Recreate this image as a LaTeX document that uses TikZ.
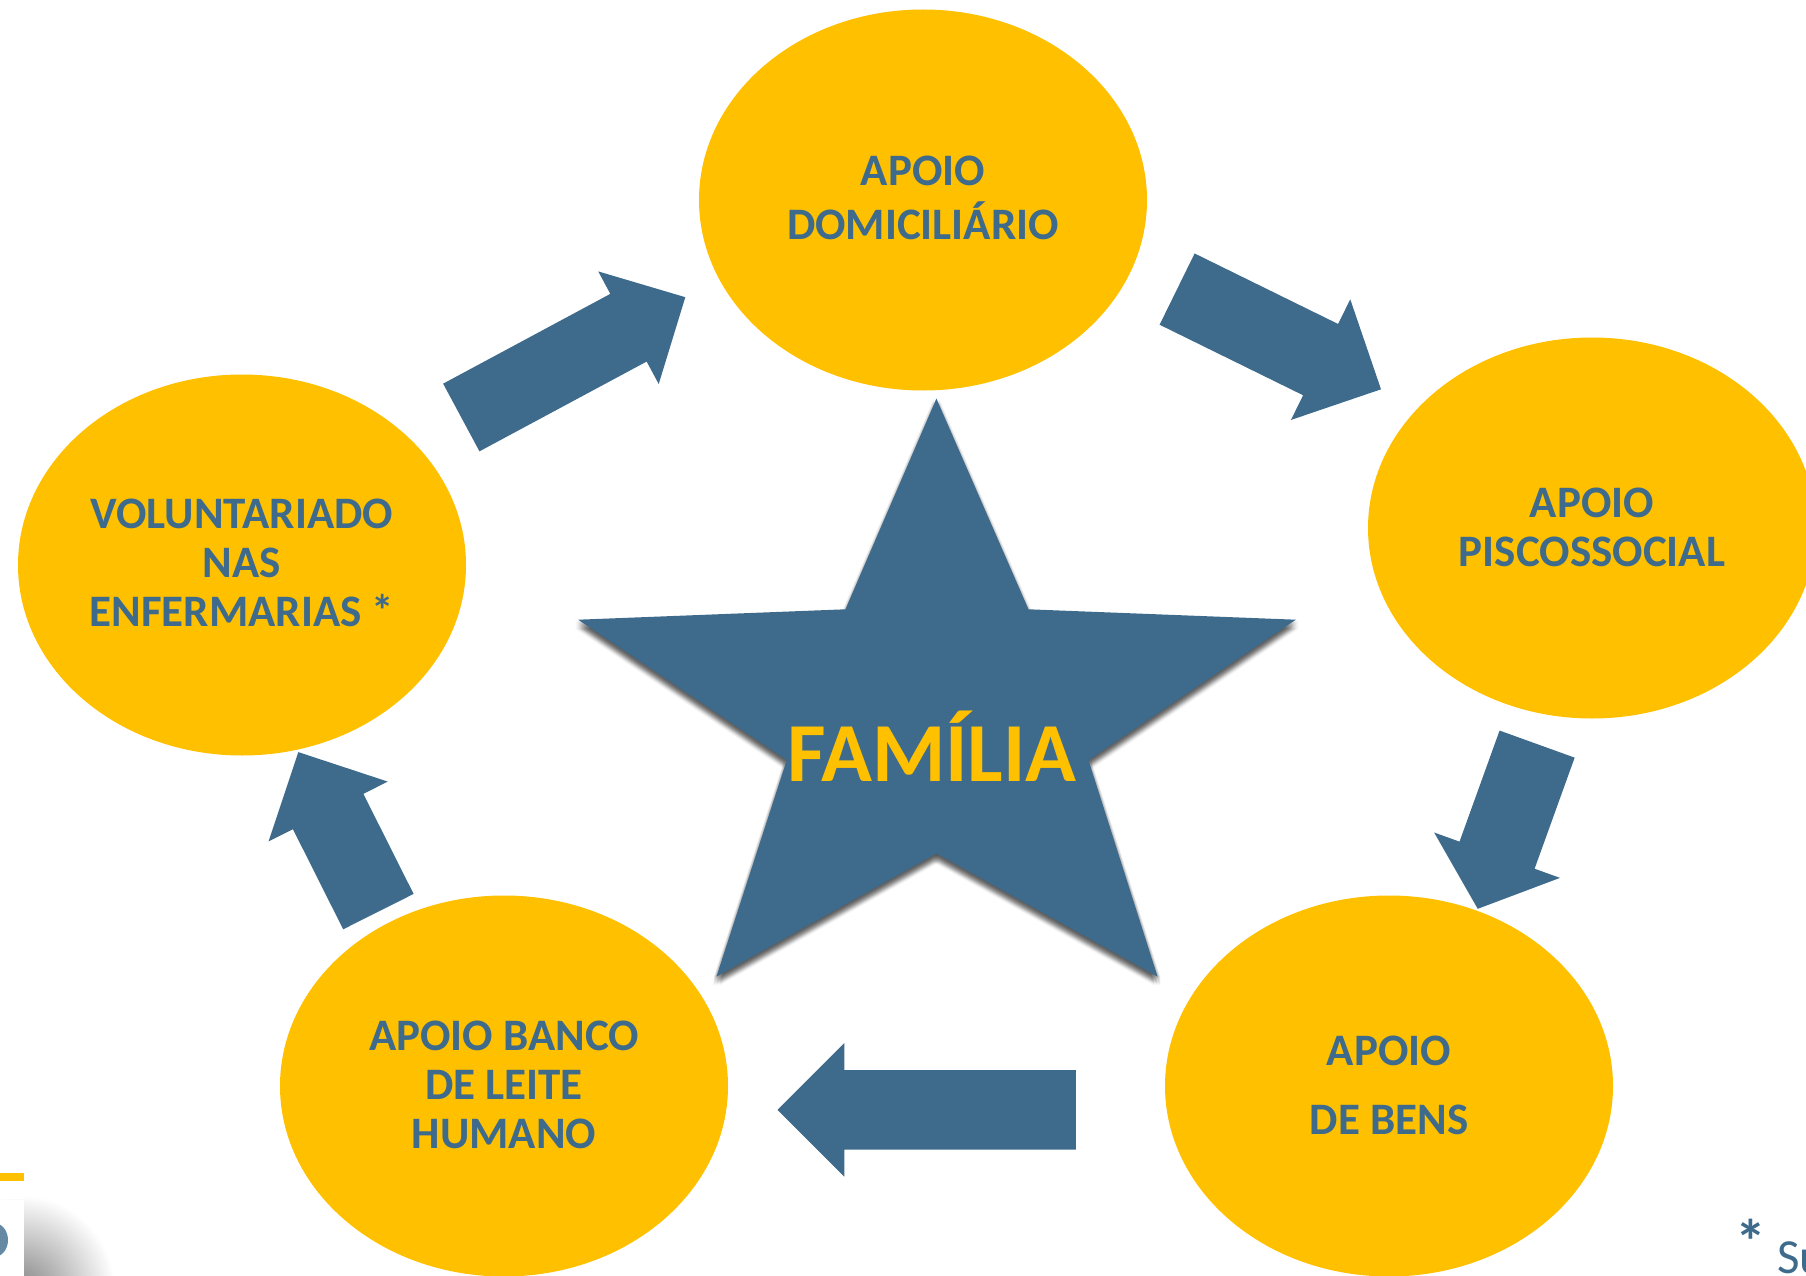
\documentclass[tikz,border=0pt]{standalone}
\usepackage{fontspec}
\setmainfont{Carlito}
\usetikzlibrary{calc,shapes.geometric}
\definecolor{gold}{RGB}{255,192,0}
\definecolor{steel}{RGB}{62,106,140}
\tikzset{
  bubble/.style={ellipse, fill=gold, minimum width=448pt, minimum height=381pt, inner sep=0pt},
  bubbletext/.style={inner sep=0pt, text=steel, font=\bfseries\fontsize{45}{49}\selectfont, align=center},
  blockfill/.style={fill=steel},
}
\newcommand{\BlkArrow}[5]{%
  \coordinate (bm) at ($(#2)!#5!(#1)$);
  \fill[blockfill] ($(#1)!#3!90:(#2)$) -- ($(bm)!#3!-90:(#1)$) -- ($(bm)!#4!-90:(#1)$) -- (#2)
    -- ($(bm)!#4!90:(#1)$) -- ($(bm)!#3!90:(#1)$) -- ($(#1)!#3!-90:(#2)$) -- cycle;
}
\newcommand{\StarOutline}{(936.4,398.5) -- (1028.5,609.3) -- (1295.8,619.7) -- (1088.5,760.2) -- (1157.6,976.7)
  -- (936.4,853.5) -- (716.4,976.7) -- (786.7,760.2) -- (578.2,619.7) -- (845.4,609.3) -- cycle}
\begin{document}
\begin{tikzpicture}[x=1pt,y=-1pt]
\useasboundingbox (0,0) rectangle (1806,1276);
\fill[white] (0,0) rectangle (1806,1276);

% block arrows (under the bubbles)
\coordinate (a1t) at (461.3,417.5);  \coordinate (a1h) at (685.3,297.2);
\coordinate (a2t) at (1177.1,289.1); \coordinate (a2h) at (1381.0,389.3);
\coordinate (a3t) at (1537.1,744.1); \coordinate (a3h) at (1477.7,908.8);
\coordinate (a4t) at (1075.8,1109.8); \coordinate (a4h) at (777.5,1109.8);
\coordinate (a5t) at (378.4,911.6);  \coordinate (a5h) at (298.3,752.1);
\BlkArrow{a1t}{a1h}{38.4pt}{63.9pt}{64.5pt}
\BlkArrow{a2t}{a2h}{39.7pt}{67.2pt}{67.3pt}
\BlkArrow{a3t}{a3h}{39.9pt}{66.9pt}{57pt}
\BlkArrow{a4t}{a4h}{39.7pt}{66.8pt}{66.8pt}
\BlkArrow{a5t}{a5h}{39.4pt}{66.7pt}{66.5pt}

% bubbles
\node[bubble] (dom) at (923,200) {};
\node[bubble] (psi) at (1592,528) {};
\node[bubble] (bens) at (1389,1086) {};
\node[bubble] (leite) at (504,1086) {};
\node[bubble] (vol) at (242,565) {};
\node[bubbletext] (domt) at (923,198) {APOIO\\[5pt]DOMICILIÁRIO};
\node[bubbletext] (psit) at (1592,527) {APOIO\\PISCOSSOCIAL};
\node[bubbletext] (benst) at (1389,1085) {APOIO\\[20pt]DE BENS};
\node[bubbletext] (leitet) at (504,1085) {APOIO BANCO\\DE LEITE\\HUMANO};
\node[bubbletext] (volt) at (242,563) {VOLUNTARIADO\\NAS\\ENFERMARIAS *};

% star soft shadow (below)
\foreach \dy in {1,2,...,9}{
  \foreach \dx in {-3,0,3}{
    \fill[black, fill opacity=0.035, shift={(\dx,\dy)}] \StarOutline;
  }
}
% star
\fill[steel] \StarOutline;
\node[text=gold, font=\bfseries\fontsize{84}{84}\selectfont, inner sep=0pt] (fam) at (932,746) {FAMÍLIA};

% logo fragment bottom-left
\shade[inner color=black!48, outer color=white] (20,1290) circle (95);
\fill[white] (0,1183) rectangle (24,1199);
\fill[gold] (0,1173) rectangle (24,1181);
\fill[white] (0,1200) rectangle (24,1276);
\begin{scope}
\clip (0,1200) rectangle (24,1276);
\fill[steel!80!white] (-6,1240) ellipse [x radius=14, y radius=17];
\end{scope}

% footnote fragment
\node[text=steel, font=\bfseries\fontsize{62}{62}\selectfont, inner sep=0pt] (ast) at (1751,1241) {*};
\node[text=steel, font=\fontsize{49}{49}\selectfont, inner sep=0pt, anchor=base west] (fn) at (1777,1273) {Su};
\end{tikzpicture}
\end{document}
